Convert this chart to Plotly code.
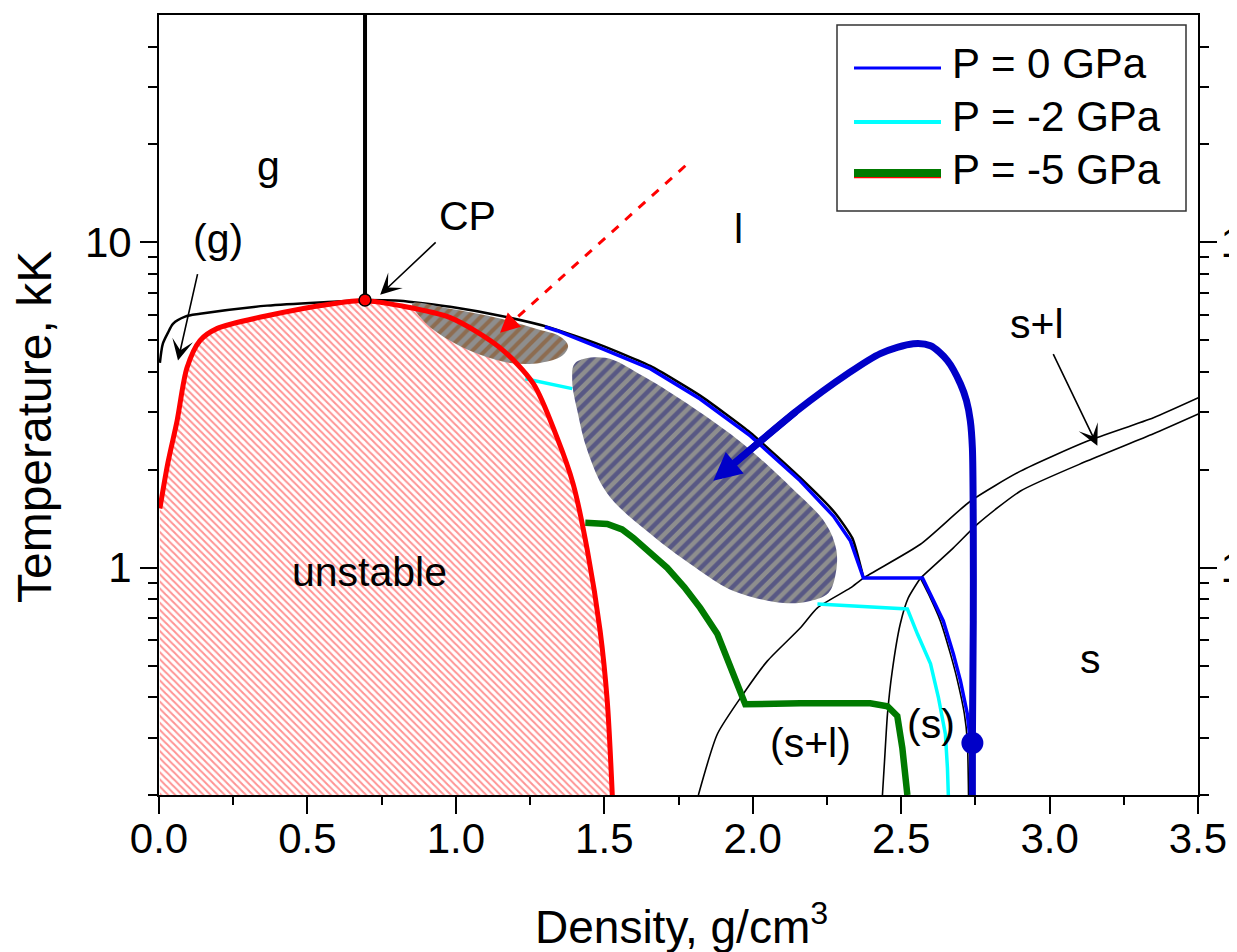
import numpy as np
import plotly.graph_objects as go

# ---------------- data (density g/cm3, temperature kK) ----------------
spin_x = [0.003, 0.030, 0.061, 0.094, 0.138, 0.195, 0.364, 0.586, 0.694, 0.812, 0.981, 1.149, 1.261, 1.341, 1.395, 1.443, 1.486, 1.510, 1.527]
spin_T = [1.52, 2.10, 2.83, 4.11, 4.99, 5.43, 5.95, 6.48, 6.62, 6.39, 5.87, 4.74, 3.68, 2.51, 1.81, 1.13, 0.639, 0.389, 0.200]

binL_x = [0.003, 0.013, 0.030, 0.047, 0.088, 0.138, 0.364, 0.586, 0.694]
binL_T = [4.26, 4.88, 5.27, 5.62, 5.91, 6.03, 6.39, 6.57, 6.65]

binR_x = [0.694, 0.812, 0.981, 1.149, 1.318, 1.486, 1.655, 1.823, 1.992, 2.160, 2.278, 2.336, 2.373]
binR_T = [6.65, 6.62, 6.34, 5.95, 5.47, 4.84, 4.17, 3.38, 2.60, 1.89, 1.47, 1.23, 0.929]

cp_x = [0.694]
cp_T = [6.65]
cpline_x = [0.694, 0.694]
cpline_T = [6.65, 50.0]

triple_x = [2.373, 2.565]
triple_T = [0.929, 0.929]

liq_x = [1.817, 1.881, 1.968, 2.049, 2.160, 2.218, 2.329, 2.373, 2.565, 2.733, 2.902, 3.128, 3.350, 3.502]
liq_T = [0.200, 0.308, 0.409, 0.516, 0.652, 0.752, 0.866, 0.929, 1.18, 1.60, 1.98, 2.45, 2.89, 3.33]

sol_low_x = [2.437, 2.444, 2.454, 2.470, 2.497, 2.524, 2.565]
sol_low_T = [0.200, 0.254, 0.355, 0.481, 0.671, 0.807, 0.929]
sol_up_x = [2.565, 2.676, 2.757, 2.902, 3.128, 3.350, 3.502]
sol_up_T = [0.929, 1.15, 1.36, 1.72, 2.13, 2.58, 2.97]

sright_x = [2.565, 2.592, 2.632, 2.666, 2.690, 2.713, 2.723, 2.727]
sright_T = [0.929, 0.830, 0.686, 0.543, 0.448, 0.355, 0.293, 0.200]

p0_x = [1.300, 1.341, 1.486, 1.655, 1.823, 1.992, 2.160, 2.272, 2.329, 2.373, 2.572, 2.599, 2.642, 2.676, 2.700, 2.723, 2.733, 2.740]
p0_T = [5.50, 5.35, 4.74, 4.09, 3.30, 2.54, 1.85, 1.44, 1.21, 0.929, 0.929, 0.830, 0.686, 0.543, 0.448, 0.355, 0.293, 0.200]

p2_x = [1.234, 1.392, None, 2.218, 2.380, 2.521, 2.555, 2.599, 2.626, 2.649, 2.656, 2.659]
p2_T = [3.81, 3.55, None, 0.773, 0.757, 0.746, 0.625, 0.506, 0.397, 0.308, 0.242, 0.200]

p5_x = [1.436, 1.510, 1.560, 1.598, 1.655, 1.712, 1.770, 1.823, 1.881, 1.935, 1.975, 2.160, 2.396, 2.454, 2.487, 2.504, 2.521]
p5_T = [1.373, 1.363, 1.310, 1.234, 1.110, 0.998, 0.870, 0.752, 0.625, 0.471, 0.380, 0.383, 0.383, 0.375, 0.350, 0.279, 0.200]

traj_x = [2.740, 2.740, 2.743, 2.743, 2.740, 2.733, 2.720, 2.700, 2.656, 2.599, 2.541, 2.430, 2.319, 2.150, 1.940]
traj_T = [0.200, 0.289, 0.685, 1.30, 2.33, 2.83, 3.26, 3.67, 4.33, 4.81, 4.88, 4.55, 3.94, 3.04, 2.10]
traj_tip = (1.867, 1.85)
start_x = [2.740]
start_T = [0.289]

brown_x = [0.853, 0.981, 1.149, 1.267, 1.352, 1.378, 1.358, 1.284, 1.183, 1.082, 0.981, 0.897, 0.853]
brown_T = [6.48, 6.25, 5.83, 5.43, 5.13, 4.81, 4.48, 4.26, 4.26, 4.51, 4.98, 5.66, 6.48]

navy_x = [1.402, 1.503, 1.635, 1.800, 1.968, 2.133, 2.245, 2.282, 2.278, 2.255, 2.194, 2.103, 1.935, 1.823, 1.655, 1.510, 1.443, 1.409, 1.392, 1.402]
navy_T = [4.26, 4.42, 3.86, 3.10, 2.40, 1.75, 1.37, 1.13, 0.943, 0.836, 0.790, 0.779, 0.848, 0.977, 1.27, 1.69, 2.29, 3.04, 3.75, 4.26]

dash_x = [1.773, 1.149]
dash_T = [17.2, 5.27]

# arrows: (tip_x, tip_T, tail_x, tail_T)
black_arrows = [
    (0.745, 6.90, 0.937, 10.1),   # CP
    (0.064, 4.33, 0.131, 8.07),   # (g)
    (3.161, 2.37, 3.010, 4.58),   # s+l
]

x_ticks = [0.0, 0.5, 1.0, 1.5, 2.0, 2.5, 3.0, 3.5]
y_ticks = [1, 10]
y_minor = [0.2, 0.3, 0.4, 0.5, 0.6, 0.7, 0.8, 0.9, 2, 3, 4, 5, 6, 7, 8, 9, 20, 30, 40]

legend_labels = ["P = 0 GPa", "P = -2 GPa", "P = -5 GPa"]

# ---------------- layout helpers ----------------
PAGE_OFF = 8                      # default body margin of the html page
W, H = 1237 - PAGE_OFF, 952 - PAGE_OFF
L, R, TOP, BOT = 159, 1198, 15, 795   # plot area in page pixels
FONT = "Arial, 'Liberation Sans', sans-serif"
BLUE_THICK = "#0000c8"


def pp(px, py):
    return (px - L) / (R - L), (BOT - py) / (BOT - TOP)


fig = go.Figure()


def line(x, y, color, width, shape="linear", dash="solid", smoothing=1.0):
    ln = dict(color=color, width=width, shape=shape, dash=dash)
    if shape == "spline":
        ln["smoothing"] = smoothing
    fig.add_trace(go.Scatter(x=x, y=y, mode="lines", line=ln, hoverinfo="skip", showlegend=False,
                             connectgaps=False))


# unstable region (hatched)
fig.add_trace(go.Scatter(x=spin_x + [spin_x[-1], spin_x[0]], y=spin_T + [0.2, 0.2], mode="none", fill="toself",
                         fillpattern=dict(shape="\\", fgcolor="rgba(255,0,0,0.85)", bgcolor="white", size=5,
                                          solidity=0.4),
                         hoverinfo="skip", showlegend=False))

# phase boundaries
line(binL_x, binL_T, "black", 2.5, "spline", smoothing=0.8)
line(binR_x, binR_T, "black", 2.5, "spline", smoothing=0.5)
line(cpline_x, cpline_T, "black", 4)
line(liq_x, liq_T, "black", 1.6, "spline", smoothing=0.6)
line(sol_low_x, sol_low_T, "black", 1.6, "spline", smoothing=0.6)
line(sol_up_x, sol_up_T, "black", 1.6, "spline", smoothing=0.6)
line(sright_x, sright_T, "black", 1.6, "spline", smoothing=0.6)
line(triple_x, triple_T, "black", 2)

# isobars
line(p0_x, p0_T, "#0000ff", 3.5)
line(p2_x, p2_T, "#00ffff", 3.5)
line(p5_x, p5_T, "#007a00", 6.5)

# hatched blobs
fig.add_trace(go.Scatter(x=brown_x, y=brown_T, mode="none", fill="toself", line=dict(shape="spline"),
                         fillpattern=dict(shape="/", fgcolor="#8b4a12", bgcolor="#8e8e8e", size=9, solidity=0.45),
                         hoverinfo="skip", showlegend=False))
fig.add_trace(go.Scatter(x=navy_x, y=navy_T, mode="none", fill="toself", line=dict(shape="spline"),
                         fillpattern=dict(shape="/", fgcolor="#22227a", bgcolor="#8e8e8e", size=9, solidity=0.5),
                         hoverinfo="skip", showlegend=False))

# spinodal
line(spin_x, spin_T, "#ff0000", 5, "spline", smoothing=0.8)

# trajectory (thick blue)
line(traj_x, traj_T, BLUE_THICK, 7, "spline", smoothing=0.8)
fig.add_trace(go.Scatter(x=start_x, y=start_T, mode="markers", marker=dict(size=22, color=BLUE_THICK),
                         hoverinfo="skip", showlegend=False))

# dashed red arrow shaft
line(dash_x, dash_T, "#ff0000", 3, dash="dash")

# critical point (drawn through the mirrored right-hand axis, which has the same scale)
fig.add_trace(go.Scatter(x=cp_x, y=cp_T, mode="markers", yaxis="y2",
                         marker=dict(size=12, color="#ff0000", line=dict(color="black", width=1.5)),
                         hoverinfo="skip", showlegend=False))

annotations = []
lg = np.log10

# arrowheads
annotations.append(dict(x=traj_tip[0], y=lg(traj_tip[1]), ax=traj_x[-2], ay=lg(traj_T[-2]), xref="x", yref="y",
                        axref="x", ayref="y", showarrow=True, arrowhead=2, arrowsize=0.8, arrowwidth=7,
                        arrowcolor=BLUE_THICK, text=""))
annotations.append(dict(x=dash_x[1], y=lg(dash_T[1]), ax=1.20, ay=lg(5.82), xref="x", yref="y",
                        axref="x", ayref="y", showarrow=True, arrowhead=2, arrowsize=1.3, arrowwidth=3,
                        arrowcolor="#ff0000", text=""))
for tx, tT, sx, sT in black_arrows:
    annotations.append(dict(x=tx, y=lg(tT), ax=sx, ay=lg(sT), xref="x", yref="y", axref="x", ayref="y",
                            showarrow=True, arrowhead=3, arrowsize=2.2, arrowwidth=1.6, arrowcolor="black", text=""))

# region labels (page-pixel positions of text centres)
labels = [("g", 268, 166), ("(g)", 218, 239), ("CP", 467, 216), ("l", 738, 229), ("s+l", 1037, 324),
          ("unstable", 369, 572), ("(s+l)", 810, 743), ("(s)", 931, 724), ("s", 1090, 659)]
for t, px, py in labels:
    xp, yp = pp(px, py)
    annotations.append(dict(x=xp, y=yp, xref="paper", yref="paper", text=t, showarrow=False,
                            font=dict(family=FONT, size=41, color="black"), xanchor="center", yanchor="middle"))

# axis titles
xp, yp = pp(681, 924)
annotations.append(dict(x=xp, y=yp, xref="paper", yref="paper", text="Density, g/cm<sup>3</sup>", showarrow=False,
                        font=dict(family=FONT, size=46, color="black"), xanchor="center", yanchor="middle"))
xp, yp = pp(34, 427)
annotations.append(dict(x=xp, y=yp, xref="paper", yref="paper", text="Temperature, kK", showarrow=False,
                        textangle=-90, font=dict(family=FONT, size=48, color="black"),
                        xanchor="center", yanchor="middle"))

# manual legend
shapes = []
x0, y0 = pp(837, 211)
x1, y1 = pp(1186, 25)
shapes.append(dict(type="rect", xref="paper", yref="paper", x0=x0, y0=y0, x1=x1, y1=y1,
                   line=dict(color="#333333", width=1.5), fillcolor="white", layer="above"))
leg_styles = [("#0000ff", 3, 68), ("#00ffff", 4, 122), ("#007a00", 8, 173)]
for (col, wd, ly), lab, ty in zip(leg_styles, legend_labels, [63, 117, 170]):
    a, b = pp(854, ly)
    c, _ = pp(941, ly)
    if col == "#007a00":
        _, br = pp(0, ly + 4.5)
        shapes.append(dict(type="line", xref="paper", yref="paper", x0=a, x1=c, y0=br, y1=br,
                           line=dict(color="#ff0000", width=1.5), layer="above"))
    shapes.append(dict(type="line", xref="paper", yref="paper", x0=a, x1=c, y0=b, y1=b,
                       line=dict(color=col, width=wd), layer="above"))
    tx, tyy = pp(950, ty)
    annotations.append(dict(x=tx, y=tyy, xref="paper", yref="paper", text=lab, showarrow=False,
                            font=dict(family=FONT, size=42, color="black"), xanchor="left", yanchor="middle"))

axis_common = dict(showgrid=False, zeroline=False, showline=True, linecolor="black", linewidth=2,
                   ticks="outside", ticklen=17, tickwidth=2, tickcolor="black", automargin=False,
                   tickfont=dict(family=FONT, size=42, color="black"))

fig.update_layout(
    width=W, height=H,
    margin=dict(l=L - PAGE_OFF, r=W + PAGE_OFF - R, t=TOP - PAGE_OFF, b=H + PAGE_OFF - BOT, pad=0),
    paper_bgcolor="white", plot_bgcolor="white",
    showlegend=False,
    xaxis=dict(range=[0, 3.5], tickvals=x_ticks, ticktext=[f"{v:.1f}" for v in x_ticks], mirror=True,
               ticklabelstandoff=-11,
               minor=dict(dtick=0.25, tick0=0, ticks="outside", ticklen=8, tickwidth=2, tickcolor="black"),
               **axis_common),
    yaxis=dict(type="log", range=[lg(0.2), lg(50)], tickvals=y_ticks, ticktext=[str(v) for v in y_ticks],
               minor=dict(tickmode="array", tickvals=y_minor, ticks="outside", ticklen=9, tickwidth=2,
                          tickcolor="black"),
               **axis_common),
    yaxis2=dict(type="log", range=[lg(0.2), lg(50)], overlaying="y", side="right", anchor="x",
                tickvals=y_ticks, ticktext=[str(v) for v in y_ticks], ticklabelstandoff=-5,
                minor=dict(tickmode="array", tickvals=y_minor, ticks="outside", ticklen=9, tickwidth=2,
                           tickcolor="black"),
                **axis_common),
    annotations=annotations,
    shapes=shapes,
)

fig.write_html("out.html")
